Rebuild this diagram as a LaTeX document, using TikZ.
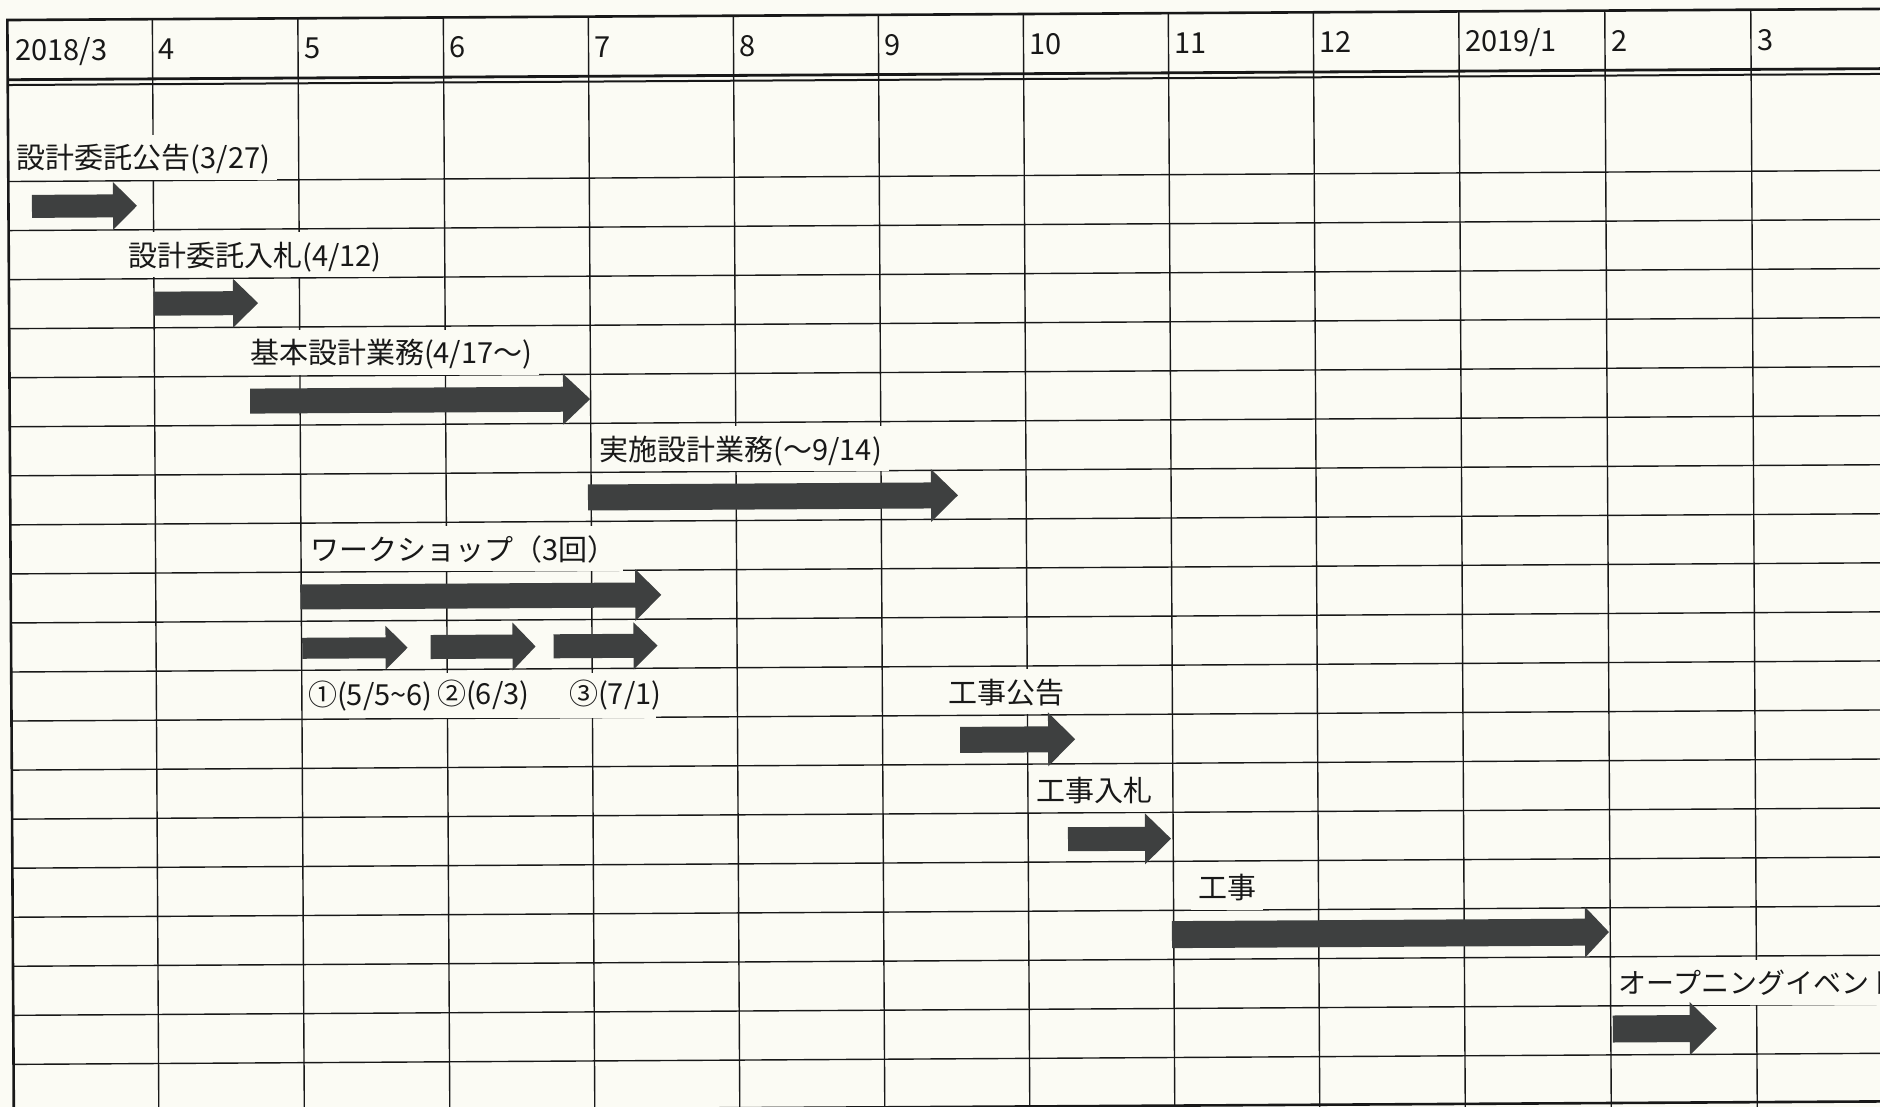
\documentclass[tikz,border=0pt]{standalone}
\usepackage{fontspec}
\setmainfont{Noto Sans CJK JP}
\definecolor{paper}{RGB}{251,251,244}
\definecolor{ink}{RGB}{24,24,24}
\definecolor{arrowfill}{RGB}{62,64,64}
\newcommand\GArrow[6]{\fill[arrowfill] (#1,#3-#4) -- (#2-#6,#3-#4) -- (#2-#6,#3-#5) -- (#2,#3) -- (#2-#6,#3+#5) -- (#2-#6,#3+#4) -- (#1,#3+#4) -- cycle;}
\begin{document}
\begin{tikzpicture}[x=1pt,y=-1pt,
  gridline/.style={draw=ink, line width=1.4pt},
  borderline/.style={draw=ink, line width=2.6pt},
  hdr/.style={anchor=base west, inner sep=0pt, text=ink, font=\fontsize{29}{34}\selectfont},
  lbl/.style={anchor=west, fill=paper, text=ink, inner xsep=7pt, inner ysep=4pt,
    text height=30pt, text depth=7pt, font=\fontsize{29}{34}\selectfont},
  wstxt/.style={anchor=base west, inner sep=0pt, text=ink, font=\fontsize{29}{34}\selectfont}]
\useasboundingbox (0,0) rectangle (1880,1107);
\fill[paper] (0,0) rectangle (1880,1107);
\clip (0,0) rectangle (1880,1107);
\begin{scope}[rotate around={0.34:(940,553.5)}]
  % grid rows
  \foreach \k in {0,...,18} \draw[gridline] (10.5,{176+49.05*\k}) -- (1900,{176+49.05*\k});
  % grid columns
  \foreach \x in {155.5,301,446.5,591.5,736.5,881.5,1026.5,1171.5,1316.5,1462,1608,1754}
    \draw[gridline] (\x,14.5) -- (\x,1120);
  % borders
  \draw[borderline] (1900,14.5) -- (10.5,14.5) -- (10.5,1125);
  \draw[draw=ink, line width=2.8pt] (10.5,74.2) -- (1900,74.2);
  \draw[draw=ink, line width=2pt] (10.5,79.5) -- (1900,79.5);
  \draw[borderline] (10.5,1107) -- (1900,1107);
  % header
  \node[hdr] (h0) at (18,55) {2018/3};
  \node[hdr] (h1) at (161.5,55) {4};
  \node[hdr] (h2) at (307,55) {5};
  \node[hdr] (h3) at (452.5,55) {6};
  \node[hdr] (h4) at (597.5,55) {7};
  \node[hdr] (h5) at (742.5,55) {8};
  \node[hdr] (h6) at (887.5,55) {9};
  \node[hdr] (h7) at (1032.5,55) {10};
  \node[hdr] (h8) at (1177.5,55) {11};
  \node[hdr] (h9) at (1322.5,55) {12};
  \node[hdr] (h10) at (1468,55) {2019/1};
  \node[hdr] (h11) at (1614,55) {2};
  \node[hdr] (h12) at (1760,55) {3};
  % labels (white boxes over the grid)
  \node[lbl] (l1) at (12,151.9) {設計委託公告(3/27)};
  \node[lbl] (l2) at (123,250) {設計委託入札(4/12)};
  \node[lbl] (l3) at (244,348) {基本設計業務(4/17～)};
  \node[lbl] (l4) at (593,446.5) {実施設計業務(～9/14)};
  \node[lbl] (l5) at (303,544.75) {ワークショップ（3回）};
  \node[lbl, minimum width=352pt, inner xsep=0pt] (wsbox) at (303,692) {};
  \node[lbl] (l6) at (940,692) {工事公告};
  \node[lbl] (l7) at (1028,790.5) {工事入札};
  \node[lbl] (l8) at (1189,888.5) {工事};
  \node[lbl, font=\fontsize{28}{34}\selectfont] (l9) at (1609,986) {オープニングイベント};
  \node[wstxt] (w1) at (307,702) {①(5/5\char"7E 6)};
  \node[wstxt] (w2) at (436,702) {②(6/3)};
  \node[wstxt] (w3) at (568,702) {③(7/1)};
  % arrows
  \GArrow{34}{139}{201}{11.5}{24}{24}
  \GArrow{155}{259.5}{299}{12}{24.5}{25}
  \GArrow{251}{591}{397}{12.5}{25.5}{27}
  \GArrow{588.3}{958.3}{495.4}{13}{26.5}{27}
  \GArrow{300}{661}{593.2}{12.5}{26}{26}
  \GArrow{301.7}{407}{644.5}{10.5}{22}{22}
  \GArrow{430}{535}{644}{12}{24}{23}
  \GArrow{553}{657}{644}{12}{23.5}{24}
  \GArrow{959}{1074}{740}{13}{27}{27}
  \GArrow{1066.3}{1169.3}{840}{12}{25.5}{26}
  \GArrow{1169.7}{1606.7}{936}{13.5}{25.5}{24}
  \GArrow{1610}{1714}{1033}{13.5}{26.5}{27}
\end{scope}
\end{tikzpicture}
\end{document}
